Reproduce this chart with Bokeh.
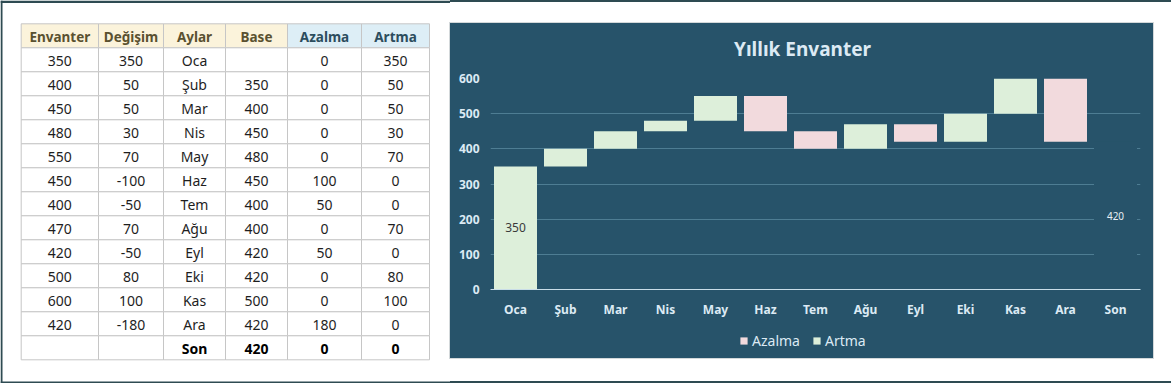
from bokeh.plotting import figure
from bokeh.models import (ColumnDataSource, FactorRange, Range1d, FixedTicker,
                          Legend, LegendItem, Spacer)
from bokeh.layouts import row, column
from bokeh.core.properties import value
from bokeh.embed import file_html
from bokeh.resources import INLINE

# ---------------- data ----------------
headers = ["Envanter", "Değişim", "Aylar", "Base", "Azalma", "Artma"]
aylar = ["Oca", "Şub", "Mar", "Nis", "May", "Haz", "Tem", "Ağu", "Eyl", "Eki", "Kas", "Ara", "Son"]
envanter = [350, 400, 450, 480, 550, 450, 400, 470, 420, 500, 600, 420, None]
degisim = [350, 50, 50, 30, 70, -100, -50, 70, -50, 80, 100, -180, None]
base = [None, 350, 400, 450, 480, 450, 400, 400, 420, 420, 500, 420, 420]
azalma = [0, 0, 0, 0, 0, 100, 50, 0, 50, 0, 0, 180, 0]
artma = [350, 50, 50, 30, 70, 0, 0, 70, 0, 80, 100, 0, 0]
y_ticks = [0, 100, 200, 300, 400, 500, 600]
chart_title = "Yıllık Envanter"
legend_labels = ["Azalma", "Artma"]

# ---------------- styles ----------------
FONT = "Noto Sans"
BG = "#27536A"
PINK = "#F2DADD"
GREEN = "#DDEFDA"
LBL = "#DCEAF4"
GRID = "#4E7D93"
FRAME = "#2E4B52"
PAGE_H = 383

# ---------------- table ----------------
TW = 450
col_edges = [20.7, 98, 163, 225, 287, 361, 429]
row_top = 23.3
row_h = 24
head_fill = ["#FBF3DB", "#FBF3DB", "#FBF3DB", "#FBF3DB", "#DDEEF6", "#DDEEF6"]
head_text = ["#5A5130", "#5A5130", "#5A5130", "#5A5130", "#2C4D5E", "#2C4D5E"]

t = figure(width=TW, height=PAGE_H, x_range=Range1d(0, TW), y_range=Range1d(PAGE_H, 0),
           output_backend="svg", toolbar_location=None, min_border=0,
           x_axis_location=None, y_axis_location=None,
           background_fill_color="white", border_fill_color="white")
t.grid.visible = False
t.outline_line_color = None
# outer frame strips (left, top, bottom)
t.quad(left=[0, 0, 0], right=[2, TW, TW], top=[0, 0, PAGE_H - 2], bottom=[PAGE_H, 2.5, PAGE_H],
       fill_color=FRAME, line_color=None)

columns = [envanter, degisim, aylar, base, azalma, artma]
nrows = len(aylar)
q = dict(l=[], r=[], t=[], b=[], f=[])
hd = dict(x=[], y=[], s=[], c=[])
body = dict(x=[], y=[], s=[])
bold = dict(x=[], y=[], s=[])
for ci, colvals in enumerate(columns):
    l, r = col_edges[ci], col_edges[ci + 1]
    xc = (l + r) / 2
    q["l"].append(l); q["r"].append(r); q["t"].append(row_top); q["b"].append(row_top + row_h)
    q["f"].append(head_fill[ci])
    hd["x"].append(xc); hd["y"].append(row_top + row_h / 2 + 1); hd["s"].append(headers[ci]); hd["c"].append(head_text[ci])
    for ri in range(nrows):
        top = row_top + (ri + 1) * row_h
        q["l"].append(l); q["r"].append(r); q["t"].append(top); q["b"].append(top + row_h)
        q["f"].append("white")
        v = colvals[ri]
        s = "" if v is None else str(v)
        d = bold if ri == nrows - 1 else body
        d["x"].append(xc); d["y"].append(top + row_h / 2 + 1); d["s"].append(s)

t.quad(left="l", right="r", top="t", bottom="b", fill_color="f", line_color="#C6C6C6",
       line_width=1, source=ColumnDataSource(q))
t.text(x="x", y="y", text="s", text_color="c", source=ColumnDataSource(hd),
       text_align="center", text_baseline="middle", text_font=value(FONT),
       text_font_size="13.5px", text_font_style="bold")
t.text(x="x", y="y", text="s", source=ColumnDataSource(body), text_color="#1E1E1E",
       text_align="center", text_baseline="middle", text_font=value(FONT),
       text_font_size="14px")
t.text(x="x", y="y", text="s", source=ColumnDataSource(bold), text_color="#000000",
       text_align="center", text_baseline="middle", text_font=value(FONT),
       text_font_size="14px", text_font_style="bold")

# ---------------- chart panel ----------------
CW = 703
TH_ = 45      # title strip
CH = 252      # plot strip
LH = 38       # legend strip
panel_style = {"background-color": BG}


def strip(h, **kw):
    f = figure(width=CW, height=h, output_backend="svg", toolbar_location=None,
               min_border_left=40, min_border_right=13,
               background_fill_color=None, border_fill_color=None, outline_line_color=None,
               styles=panel_style, **kw)
    return f


# title strip
tf = strip(TH_, x_range=Range1d(0, 650), y_range=Range1d(TH_, 0),
           min_border_top=0, min_border_bottom=0, x_axis_location=None, y_axis_location=None)
tf.grid.visible = False
tf.text(x=[312], y=[25], text=[chart_title], text_align="center", text_baseline="middle",
        text_color=LBL, text_font=value(FONT), text_font_size="19px", text_font_style="bold")

# plot strip
c = strip(CH, x_range=FactorRange(factors=aylar), y_range=Range1d(0, max(y_ticks)),
          min_border_top=10, min_border_bottom=30)

bottom_az = [b or 0 for b in base]
top_az = [bb + a for bb, a in zip(bottom_az, azalma)]
top_ar = [tt + a for tt, a in zip(top_az, artma)]
src = ColumnDataSource(dict(x=aylar, b=bottom_az, ta=top_az, tr=top_ar))

# total (Son) bar drawn in panel colour (hides the grid lines)
c.vbar(x=[aylar[-1]], bottom=[0], top=[base[-1]], width=0.86, fill_color=BG, line_color=None)
c.vbar(x="x", bottom="b", top="ta", width=0.86, source=src, fill_color=PINK, line_color=None)
c.vbar(x="x", bottom="ta", top="tr", width=0.86, source=src, fill_color=GREEN, line_color=None)

c.text(x=[aylar[0]], y=[artma[0] / 2], text=[str(artma[0])], text_align="center",
       text_baseline="middle", text_color="#3A3A3A", text_font=value(FONT), text_font_size="12px")
c.text(x=[aylar[-1]], y=[base[-1] / 2], text=[str(base[-1])], text_align="center",
       text_baseline="middle", text_color="#E6EEF3", text_font=value(FONT), text_font_size="10px")

c.yaxis.ticker = FixedTicker(ticks=y_ticks)
for ax in (c.xaxis[0], c.yaxis[0]):
    ax.major_tick_line_color = None
    ax.minor_tick_line_color = None
    ax.major_tick_out = 0
    ax.major_tick_in = 0
    ax.major_label_text_color = LBL
    ax.major_label_text_font = FONT
    ax.major_label_text_font_size = "12px"
    ax.major_label_text_font_style = "bold"
c.yaxis.axis_line_color = None
c.yaxis.major_label_standoff = 11
c.xaxis.axis_line_color = "#C9DDE8"
c.xaxis.major_label_standoff = 11
c.xgrid.grid_line_color = None
c.ygrid.grid_line_color = GRID
c.ygrid.grid_line_width = 1

# legend strip
lf = strip(LH, x_range=Range1d(0, 1), y_range=Range1d(0, 1),
           min_border_top=0, min_border_bottom=0, x_axis_location=None, y_axis_location=None)
lf.grid.visible = False
la = lf.vbar(x=[0.5], bottom=[0], top=[0], width=0.1, fill_color=PINK, line_color=None)
lg = lf.vbar(x=[0.5], bottom=[0], top=[0], width=0.1, fill_color=GREEN, line_color=None)
legend = Legend(items=[LegendItem(label=legend_labels[0], renderers=[la]),
                       LegendItem(label=legend_labels[1], renderers=[lg])],
                orientation="horizontal", location=(249, 8),
                background_fill_alpha=0, border_line_color=None,
                label_text_color=LBL, label_text_font=FONT, label_text_font_size="14px",
                glyph_width=9, glyph_height=9, padding=3, margin=0, spacing=12,
                label_standoff=4)
lf.add_layout(legend)

panel = column(tf, c, lf, styles={"background-color": BG, "outline": "1px solid #D3D8DA"})

chart_col = column(
    Spacer(width=CW, height=2, styles={"background-color": FRAME}),
    Spacer(width=CW, height=21),
    panel,
    Spacer(width=CW, height=PAGE_H - 23 - TH_ - CH - LH - 2),
    Spacer(width=CW, height=2, styles={"background-color": FRAME}),
)
RW = 18
right_col = column(
    Spacer(width=RW, height=2, styles={"background-color": FRAME}),
    Spacer(width=RW, height=PAGE_H - 4),
    Spacer(width=RW, height=2, styles={"background-color": FRAME}),
)

layout = row(t, chart_col, right_col)

open("out.html", "w").write(file_html(layout, INLINE))
